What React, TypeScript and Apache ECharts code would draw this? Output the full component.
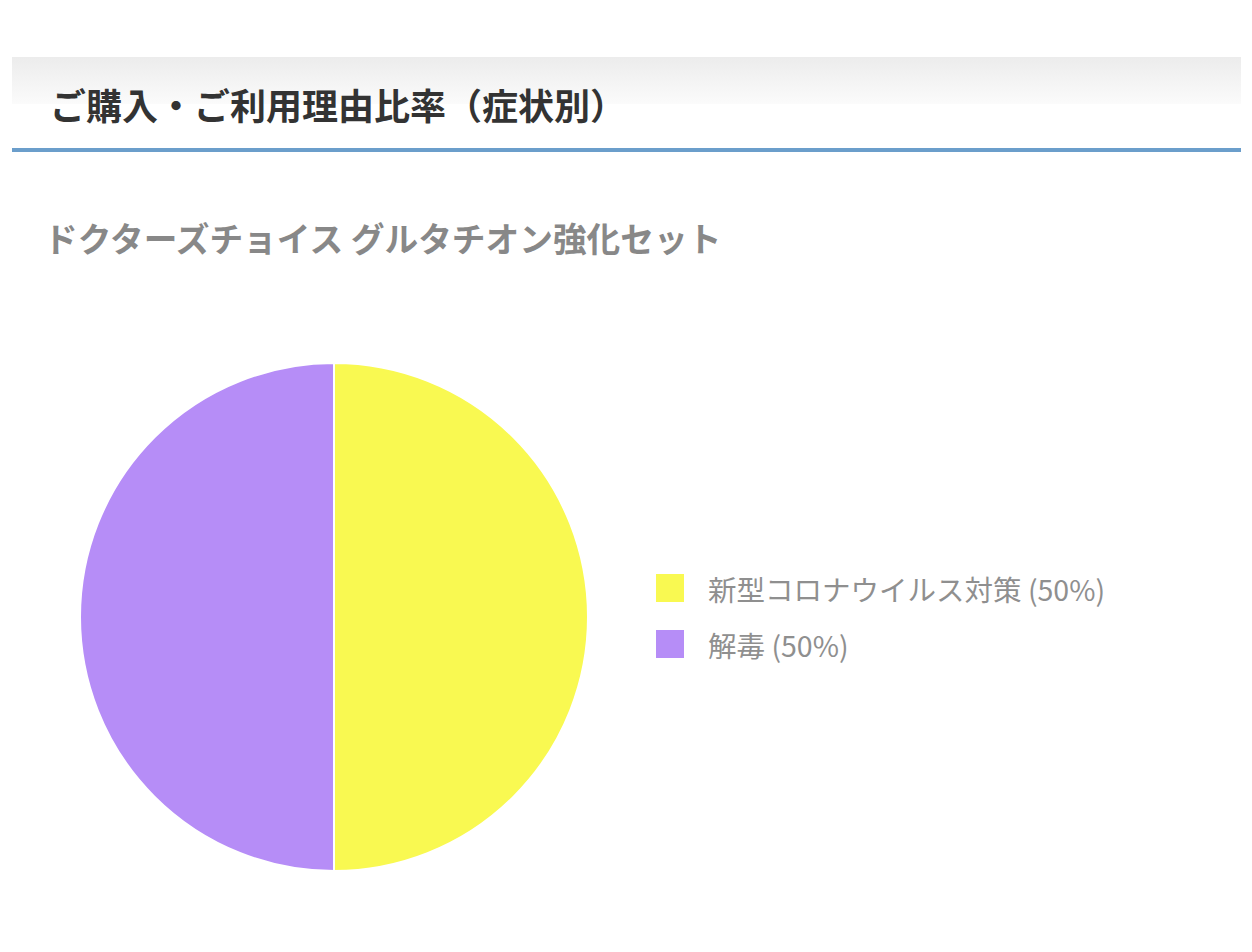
import React, { useEffect, useRef } from "react";
import * as echarts from "echarts";

const pageTitle = "ご購入・ご利用理由比率（症状別）";
const chartTitle = "ドクターズチョイス グルタチオン強化セット";
const categories = ["新型コロナウイルス対策", "解毒"];
const values = [50, 50];
const colors = ["#f9f951", "#b68df7"];

const FONT = "'Noto Sans CJK JP', 'Noto Sans', sans-serif";

export default function App() {
  const ref = useRef<HTMLDivElement>(null);
  useEffect(() => {
    if (!ref.current) return;
    const chart = echarts.init(ref.current, undefined, { renderer: "svg" });
    const total = values.reduce((a, b) => a + b, 0);
    const data = categories.map((name, i) => ({
      name,
      value: values[i],
      itemStyle: { color: colors[i] },
    }));
    chart.setOption({
      animation: false,
      backgroundColor: "#ffffff",
      graphic: [
        {
          type: "rect",
          shape: { x: 12, y: 57, width: 1229, height: 47 },
          style: {
            fill: {
              type: "linear",
              x: 0,
              y: 0,
              x2: 0,
              y2: 1,
              colorStops: [
                { offset: 0, color: "#ececec" },
                { offset: 1, color: "#fbfbfb" },
              ],
            },
          },
          z: 0,
        },
        {
          type: "rect",
          shape: { x: 12, y: 148, width: 1229, height: 4 },
          style: { fill: "#6b9ecb" },
        },
        {
          type: "text",
          x: 50,
          y: 104,
          style: {
            text: pageTitle,
            font: `bold 36px ${FONT}`,
            fill: "#333333",
            textVerticalAlign: "middle",
          },
        },
        {
          type: "text",
          x: 44,
          y: 237,
          style: {
            text: chartTitle,
            font: `bold 33.7px ${FONT}`,
            fill: "#888888",
            textVerticalAlign: "middle",
          },
        },
      ],
      legend: {
        orient: "vertical",
        left: 649,
        top: 567,
        itemWidth: 30,
        itemHeight: 30,
        itemGap: 24,
        icon: "rect",
        selectedMode: false,
        formatter: (name: string) => {
          const i = categories.indexOf(name);
          return `${name} (${Math.round((values[i] / total) * 100)}%)`;
        },
        textStyle: {
          fontFamily: FONT,
          fontSize: 28.5,
          lineHeight: 30,
          color: "#8f8f8f",
          padding: [0, 0, 0, 18],
        },
        data: categories,
      },
      series: [
        {
          type: "pie",
          center: [334, 617],
          radius: [0, 254],
          startAngle: 90,
          clockwise: true,
          label: { show: false },
          labelLine: { show: false },
          itemStyle: { borderColor: "#ffffff", borderWidth: 2 },
          emphasis: { disabled: true },
          data,
        },
      ],
    });
    return () => chart.dispose();
  }, []);
  return (
    <div
      ref={ref}
      style={{ position: "fixed", left: 0, top: 0, width: 1252, height: 952 }}
    />
  );
}
